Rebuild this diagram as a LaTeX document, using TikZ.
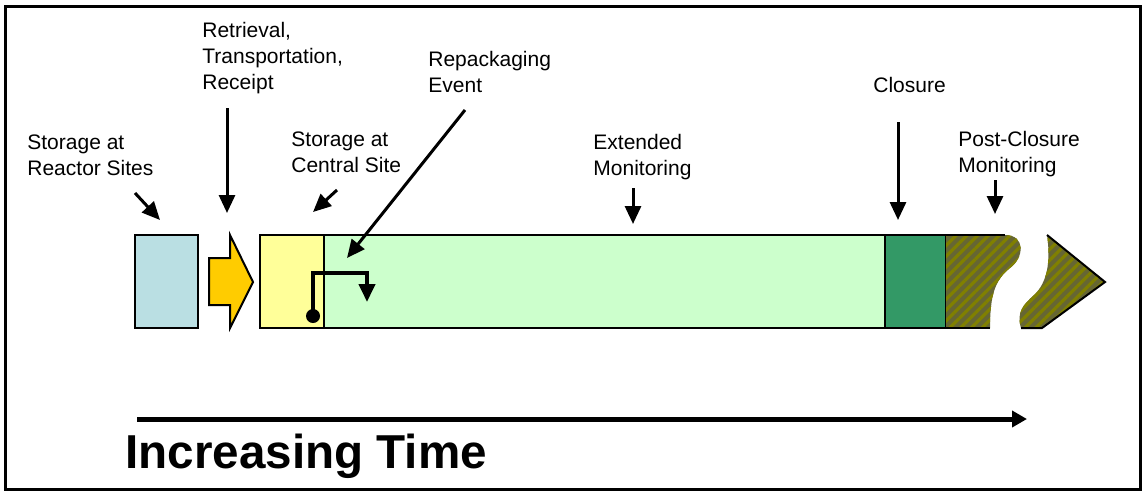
\documentclass[tikz,border=0pt]{standalone}
\usepackage{fontspec}
\setmainfont{Liberation Sans}
\usetikzlibrary{arrows.meta, patterns.meta}

\definecolor{reactorblue}{RGB}{186,223,227}
\definecolor{shiporange}{RGB}{255,204,0}
\definecolor{centralyellow}{RGB}{255,255,153}
\definecolor{monitorgreen}{RGB}{204,255,204}
\definecolor{closuregreen}{RGB}{51,153,102}
\definecolor{postbase}{RGB}{102,102,51}
\definecolor{poststripe}{RGB}{128,128,0}

\begin{document}
\begin{tikzpicture}[>={Triangle[width=8pt,length=9pt]}, x=0.5pt, y=-0.5pt,
    lbl/.style={anchor=base west, align=left, inner sep=0pt, font=\fontsize{10.5}{13}\selectfont},
    pointer/.style={->, line width=1.5pt},
    hatch/.style={fill=postbase, postaction={pattern={Lines[angle=45,distance=3.8pt,line width=1.6pt]}, pattern color=poststripe}}]

\useasboundingbox (0,0) rectangle (1144,493);
\draw[line width=1.5pt] (5.5,6) rectangle (1140,489);

% the bar
\draw[line width=1pt, fill=reactorblue] (135,235) rectangle (198,328);
\draw[line width=1pt, fill=shiporange] (209,258) -- (230,258) -- (230,235) -- (253,282) -- (230,328) -- (230,305) -- (209,305) -- cycle;
\draw[line width=1pt, fill=centralyellow] (260,235) rectangle (324,328);
\draw[line width=1pt, fill=monitorgreen] (324,235) rectangle (885,328);
\draw[line width=1pt, fill=closuregreen] (885,235) rectangle (946,328);

\path[hatch] (946,235) -- (1005,235) .. controls (1026,235) and (1024,258) .. (1010,268)
    .. controls (995,280) and (990,295) .. (990,328) -- (946,328) -- cycle;
\path[hatch] (1047,235) -- (1105,282) -- (1042,328) -- (1021,328)
    .. controls (1016,312) and (1024,304) .. (1034,295) .. controls (1047,283) and (1051,262) .. (1047,235);
\draw[line width=1pt] (946,235) -- (1005,235);
\draw[line width=1pt] (946,328) -- (990,328);
\draw[line width=1pt] (1047,235) -- (1105,282) -- (1042,328) -- (1021,328);

% repackaging
\coordinate (swap) at (313,316);
\coordinate (swapend) at (367,302);
\fill (swap) circle (3.5pt);
\draw[->, line width=2pt] (swap) |- (340,273) -| (swapend);

% labels (base = last line)
\node[lbl] (reactor) at (27,175) {Storage at\\Reactor Sites};
\node[lbl] (retrieval) at (202,89) {Retrieval,\\Transportation,\\Receipt};
\node[lbl] (central) at (291,172) {Storage at\\Central Site};
\node[lbl] (repack) at (428,92) {Repackaging\\Event};
\node[lbl] (extended) at (593,175) {Extended\\Monitoring};
\node[lbl] (closure) at (873,92) {Closure};
\node[lbl] (postclosure) at (958,172) {Post-Closure\\Monitoring};

\coordinate (reactor-s) at (135,193);   \coordinate (reactor-e) at (160,220);
\coordinate (retrieval-s) at (227,108); \coordinate (retrieval-e) at (227,213);
\coordinate (central-s) at (337,190);   \coordinate (central-e) at (313,212);
\coordinate (repack-s) at (465,110);    \coordinate (repack-e) at (347,258);
\coordinate (extended-s) at (633,188);  \coordinate (extended-e) at (633,224);
\coordinate (closure-s) at (898,122);   \coordinate (closure-e) at (898,220);
\coordinate (post-s) at (995,180);      \coordinate (post-e) at (995,214);

\foreach \a in {reactor, retrieval, central, repack, extended, closure, post}
    \draw[pointer] (\a-s) -- (\a-e);

% time axis
\coordinate (t0) at (137,419);
\coordinate (t1) at (1027,419);
\draw[line width=2.5pt, -{Triangle[width=8pt,length=7.5pt]}] (t0) -- (t1);
\node[anchor=base west, inner sep=0pt, font=\fontsize{23.8}{28}\selectfont\bfseries] (time) at (125,468) {Increasing Time};

\end{tikzpicture}
\end{document}
